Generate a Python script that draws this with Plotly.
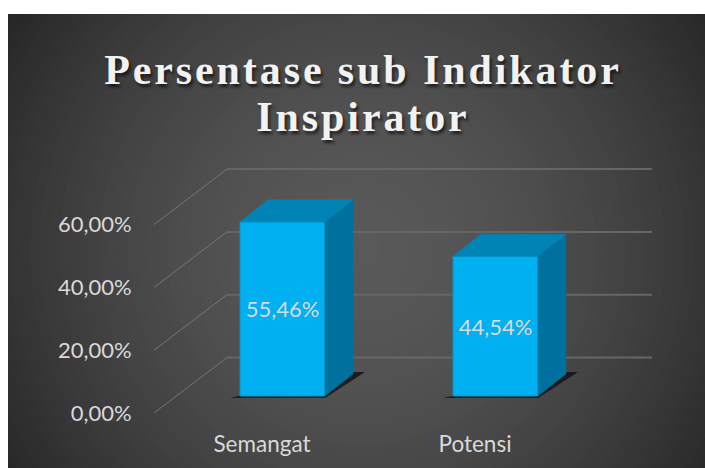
import plotly.graph_objects as go

categories = ["Semangat", "Potensi"]
values = [0.5546, 0.4454]
tick_values = [0, 0.2, 0.4, 0.6]
title_text = "Persentase sub Indikator<br>Inspirator"

W, H = 705, 468
ML, MR, MT, MB = 154, 53, 150, 55
PX_PER_UNIT = 314.0      # vertical pixels per 100 %
PX_PER_CAT = 213.0       # horizontal pixels between categories
X0_PX = 282.5            # pixel of the first category's front-face centre
BAR_W = 85 / PX_PER_CAT
FLOOR_PX = 17 / PX_PER_UNIT          # bars stand behind the front floor edge
BAR_DX, BAR_DY = 28 / PX_PER_CAT, 22 / PX_PER_UNIT
WALL_DX, WALL_DY = 73 / PX_PER_CAT, 55.5 / PX_PER_UNIT
LABEL_SHIFT = -20.5 / PX_PER_CAT

xr = [(ML - X0_PX) / PX_PER_CAT, (W - MR - X0_PX) / PX_PER_CAT]
yr_top = (H - MB - MT) / PX_PER_UNIT

FACE, SIDE, TOP = "#00b0f0", "#00709f", "#0084b6"
TEXT = "#d9d9d9"
GRID_H, GRID_D = "#666666", "#767676"

fig = go.Figure()
idx = list(range(len(categories)))

# gridlines: floor/wall polyline for every tick
for t in tick_values:
    fig.add_trace(go.Scatter(x=[xr[0], xr[0] + WALL_DX], y=[t, t + WALL_DY], mode="lines",
                             line=dict(color=GRID_D, width=1), hoverinfo="skip", showlegend=False))
    fig.add_trace(go.Scatter(x=[xr[0] + WALL_DX, xr[1]], y=[t + WALL_DY, t + WALL_DY], mode="lines",
                             line=dict(color=GRID_H, width=2), hoverinfo="skip", showlegend=False))

# floor shadows
for i in idx:
    l, r = i - BAR_W / 2, i + BAR_W / 2
    fig.add_trace(go.Scatter(
        x=[l - 10 / PX_PER_CAT, r, r + BAR_DX + 12 / PX_PER_CAT, r + BAR_DX],
        y=[FLOOR_PX - 2 / PX_PER_UNIT, FLOOR_PX - 2 / PX_PER_UNIT, FLOOR_PX + BAR_DY + 2 / PX_PER_UNIT, FLOOR_PX + BAR_DY + 2 / PX_PER_UNIT],
        mode="lines", fill="toself", fillcolor="rgba(15,15,15,0.8)", line=dict(width=0),
        hoverinfo="skip", showlegend=False))

# front faces with data labels
fig.add_trace(go.Bar(x=idx, y=values, width=BAR_W, yaxis="y2",
                     marker=dict(color=FACE, line=dict(color="#0094c8", width=1)),
                     text=values, texttemplate="%{y:.2%}", textposition="inside",
                     insidetextanchor="middle", textangle=0,
                     textfont=dict(family="Lato, sans-serif", size=22, color=TEXT),
                     hoverinfo="skip", showlegend=False))

# side and top faces
for i, v in zip(idx, values):
    l, r = i - BAR_W / 2, i + BAR_W / 2
    fig.add_trace(go.Scatter(x=[r, r + BAR_DX, r + BAR_DX, r, r], y=[0, BAR_DY, v + BAR_DY, v, 0],
                             yaxis="y2", mode="lines", fill="toself", fillcolor=SIDE,
                             line=dict(color=SIDE, width=0.5), hoverinfo="skip", showlegend=False))
    fig.add_trace(go.Scatter(x=[l, r, r + BAR_DX, l + BAR_DX, l], y=[v, v, v + BAR_DY, v + BAR_DY, v],
                             yaxis="y2", mode="lines", fill="toself", fillcolor=TOP,
                             line=dict(color=TOP, width=0.5), hoverinfo="skip", showlegend=False))

# radial panel background, drawn as concentric circles in figure pixels
def px_x(p): return (p - ML) / (W - ML - MR)
def px_y(p): return 1 - (p - MT) / (H - MT - MB)

shapes = []
CX, CY, R_MAX, STEPS = 362, 250, 430, 44
C_IN, C_OUT = 0x59, 0x26
shapes.append(dict(type="rect", xref="paper", yref="paper", layer="below",
                   x0=px_x(0), x1=px_x(W), y0=px_y(H), y1=px_y(0),
                   fillcolor=f"rgb({C_OUT},{C_OUT},{C_OUT})", line_width=0))
for s in range(STEPS):
    f = s / STEPS
    r = R_MAX * (1 - f)
    # gradient stays light through the middle and falls off toward the corners
    c = round(C_OUT + (C_IN - C_OUT) * (1 - (1 - f) ** 1.7))
    shapes.append(dict(type="circle", xref="paper", yref="paper", layer="below",
                       x0=px_x(CX - r), x1=px_x(CX + r), y0=px_y(CY + r), y1=px_y(CY - r),
                       fillcolor=f"rgb({c},{c},{c})", line_width=0))
for a, b, c, d in [(0, 8, 0, H), (0, W, 0, 14)]:
    shapes.append(dict(type="rect", xref="paper", yref="paper", layer="below",
                       x0=px_x(a), x1=px_x(b), y0=px_y(d), y1=px_y(c),
                       fillcolor="white", line_width=0))

axis_font = dict(family="Lato, sans-serif", size=22, color=TEXT)
x_font = dict(family="Lato, sans-serif", size=22.5, color=TEXT)
fig.update_layout(
    width=W, height=H, autosize=False,
    margin=dict(l=ML, r=MR, t=MT, b=MB, pad=0, autoexpand=False),
    paper_bgcolor="white", plot_bgcolor="rgba(0,0,0,0)",
    separators=",.",
    barmode="overlay",
    shapes=shapes,
    title=dict(text=title_text, x=363 / W, xanchor="center", xref="container",
               y=1 - 84 / H, yanchor="top", yref="container", automargin=False,
               font=dict(family="Liberation Serif, serif", size=42, color="#f2f2f2", weight="bold",
                         shadow="2px 3px 3px rgba(0,0,0,0.6)")),
    xaxis=dict(range=xr, tickvals=[i + LABEL_SHIFT for i in idx], ticktext=categories,
               ticks="outside", ticklen=11, tickcolor="rgba(0,0,0,0)", showgrid=False,
               zeroline=False, showline=False, tickfont=x_font, automargin=False),
    yaxis=dict(range=[0, yr_top], tickvals=tick_values, tickformat=".2%",
               ticks="outside", ticklen=17, tickcolor="rgba(0,0,0,0)", showgrid=False,
               zeroline=False, showline=False, tickfont=axis_font, automargin=False),
    yaxis2=dict(range=[-FLOOR_PX, yr_top - FLOOR_PX], overlaying="y", visible=False, automargin=False),
    showlegend=False,
)

post = """
document.body.style.margin = '0';
var g = document.querySelector('.gtitle');
if (g) {
  g.style.letterSpacing = '2.9px';
  var ls = g.querySelectorAll('tspan.line');
  if (ls.length > 1) {
    ls[1].setAttribute('dy', '0');
    ls[1].setAttribute('y', parseFloat(ls[0].getAttribute('y')) + 47);
  }
}
"""
fig.write_html("out.html", config={"displayModeBar": False}, post_script=post)
